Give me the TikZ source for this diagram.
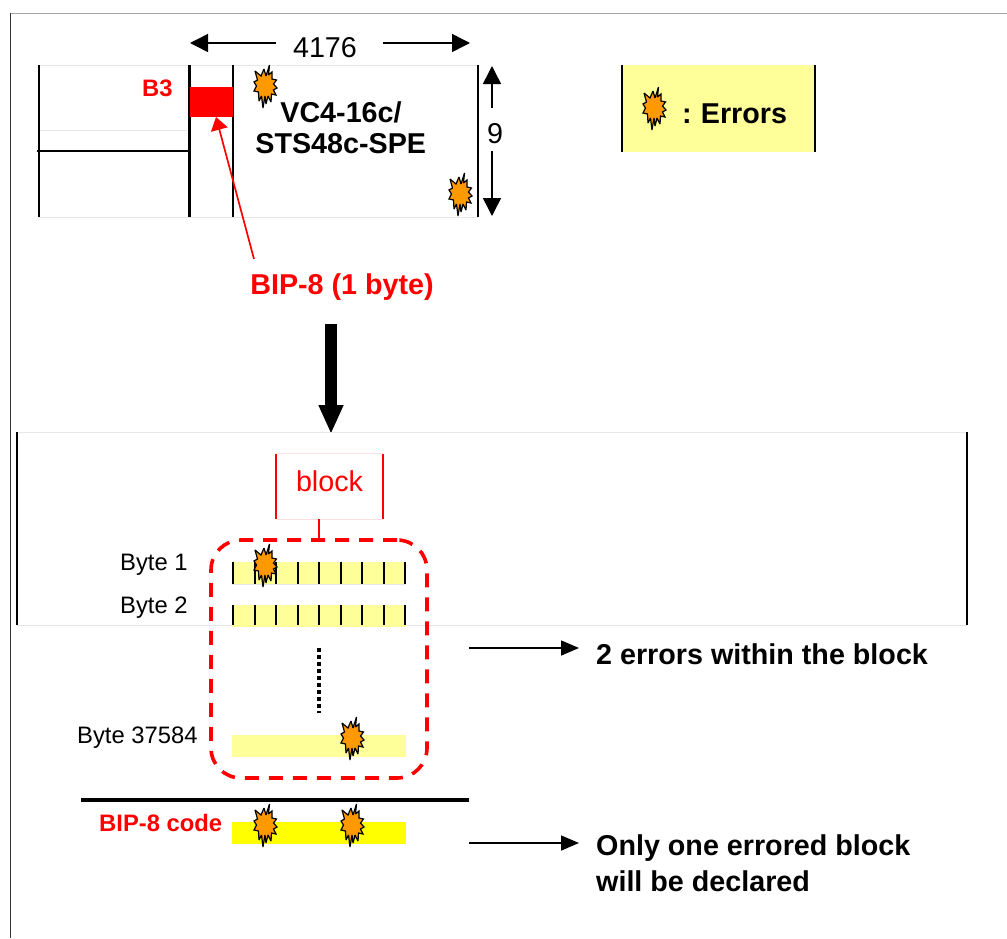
\documentclass[tikz,border=0pt]{standalone}
\usepackage{fontspec}
\setmainfont{Liberation Sans}
\usepackage{xcolor}
\usepackage{tikz}
\usetikzlibrary{positioning}
\usetikzlibrary{arrows.meta}
\definecolor{paleyellow}{HTML}{FFFF99}
\definecolor{codeyellow}{HTML}{FFFF00}
\definecolor{burstorange}{HTML}{FF9900}
\definecolor{edgegray}{HTML}{E6E6E6}
\newcommand{\bigfont}{\fontsize{28.7}{34}\selectfont}
\newcommand{\smallfont}{\fontsize{23.8}{28}\selectfont}
\tikzset {
  x=1pt, y=-1pt,
  % plain and bold labels
  label28/.style={inner sep=0pt, font=\bigfont},
  bold28/.style={inner sep=0pt, font=\bigfont\bfseries},
  label23/.style={inner sep=0pt, font=\smallfont},
  bold23/.style={inner sep=0pt, font=\smallfont\bfseries},
  % the yellow bars
  bytebar/.style={inner sep=0pt, minimum width=174pt, minimum height=22pt, fill=paleyellow},
  % frames whose sides only are dark
  edge/.style={edgegray, line width=1pt},
  side/.style={black, line width=2pt},
  heavyside/.style={black, line width=3.2pt},
  % size arrows
  onearrow/.style={line width=1.5pt, -{Triangle[length=18pt,width=18pt]}},
  notearrow/.style={line width=1.5pt, -{Triangle[length=18pt,width=15pt]}},
  burst/.pic={
    \draw[fill=burstorange, line width=1.2pt, line join=miter, miter limit=2.5]
      (4.5,-21) -- (3.5,-11) -- (7,-14) -- (7,-7) -- (11.5,-6) -- (8.5,-2) -- (12,2) -- (8.5,4)
      -- (11,9) -- (6.5,8) -- (6,16) -- (3,10) -- (1,18) -- (0,10) -- (-2,22) -- (-3.5,10)
      -- (-6,15) -- (-6.5,6) -- (-11,5) -- (-8.5,0) -- (-11,-4) -- (-7.5,-6) -- (-10,-15)
      -- (-4,-10) -- (-1,-17) -- (1,-10) -- cycle;
  },
}
\begin{document}
\begin{tikzpicture}
  \useasboundingbox (0,0) rectangle (1007,938);
  \fill[white] (0,0) rectangle (1007,938);

  % outer frame
  \draw[gray!70, line width=1pt] (10,13) -- (1007,13);
  \draw[black!80, line width=1pt] (10,13) -- (10,938);

  % upper frame
  \draw[edge] (39,65) -- (478,65);
  \draw[edge] (39,217) -- (478,217);
  \draw[edge] (39,130) -- (187,130);
  \draw[side] (39,65) -- (39,217);
  \draw[heavyside] (189.5,65) -- (189.5,217);
  \draw[side] (233,65) -- (233,217);
  \draw[side] (478,65) -- (478,217);
  \draw[side] (37,151) -- (188,151);
  \node[fill=red, inner sep=0pt, minimum width=43pt, minimum height=30pt] (bthree) at (211.5,102) {};
  \node[bold23, text=red, anchor=west] (bthreetext) at (142,88) {B3};

  \node[label28] (rowcount) at (325,48) {4176};
  \coordinate (rowleft) at (190,43);
  \coordinate (rowright) at (470,43);
  \draw[onearrow] (276,43) -- (rowleft);
  \draw[onearrow] (383,43) -- (rowright);

  \node[label28] (colcount) at (495,134) {9};
  \coordinate (coltop) at (492,66);
  \coordinate (colbottom) at (492,216);
  \draw[onearrow] (492,108) -- (coltop);
  \draw[onearrow] (492,151) -- (colbottom);

  \node[bold28] (vcname) at (341,112) {VC4-16c/};
  \node[bold28, below=10pt of vcname.south west, anchor=north west, xshift=-25pt] (stsname) {STS48c-SPE};

  \node[bold28, text=red] (bipnote) at (342,287) {BIP-8 (1 byte)};
  \coordinate (bipfoot) at (254,259);
  \coordinate (biptip) at (216,117);
  \draw[red, line width=1.7pt, -{Triangle[length=13pt,width=17pt]}] (bipfoot) -- (biptip);

  % legend
  \node[inner sep=0pt, minimum width=193pt, minimum height=87pt, fill=paleyellow] (legend) at (718.5,108.5) {};
  \draw[side] (legend.north west) -- (legend.south west);
  \draw[side] (legend.north east) -- (legend.south east);
  \node[bold28, anchor=west] (legendtext) at (682,114) {:\hspace{-1.5pt} Errors};

  % big arrow down
  \coordinate (bigstart) at (331,324);
  \coordinate (bigtip) at (331,434);
  \draw[line width=12pt, -{Triangle[length=29pt,width=23pt]}] (bigstart) -- (bigtip);

  % lower frame
  \draw[edge] (17,432) -- (967,432);
  \draw[edge] (17,625) -- (967,625);
  \draw[side] (17,432) -- (17,625);
  \draw[side] (967,432) -- (967,625);

  % block label
  \node[inner sep=0pt, minimum width=107pt, minimum height=65pt] (blockbox) at (329.5,486.5) {};
  \draw[red!12, line width=1pt] (blockbox.north west) -- (blockbox.north east);
  \draw[red!12, line width=1pt] (blockbox.south west) -- (blockbox.south east);
  \draw[red, line width=1.5pt] (blockbox.north west) -- (blockbox.south west);
  \draw[red, line width=1.5pt] (blockbox.north east) -- (blockbox.south east);
  \node[label28, text=red] (blocktext) at (329.5,481) {block};

  \node[draw=red, line width=3.6pt, dash pattern=on 14pt off 10pt, rounded corners=30pt,
        inner sep=0pt, minimum width=216pt, minimum height=238pt] (blockarea) at (319,659) {};
  \coordinate (blockfoot) at (319,519);
  \draw[red, line width=1.5pt] (blockfoot) -- (319,540);

  % byte rows
  \node[bytebar] (byteone) at (319,573) {};
  \node[bytebar] (bytetwo) at (319,616) {};
  \node[bytebar] (bytelast) at (319,746) {};
  \node[bytebar, fill=codeyellow] (bipcode) at (319,833) {};
  \foreach \x in {233,255,276,298,319,341,362,384,405} {
    \draw[black, line width=2.5pt] (\x,562) -- (\x,584);
    \draw[black, line width=2.5pt] (\x,605) -- (\x,625);
  }
  \draw[edge] (232,584.5) -- (406,584.5);

  \node[label23, anchor=west] (byteonetext) at (120,565) {Byte 1};
  \node[label23, anchor=west] (bytetwotext) at (120,608) {Byte 2};
  \node[label23, anchor=west] (bytelasttext) at (77,738) {Byte 37584};
  \node[bold23, text=red, anchor=west] (biptext) at (99,823) {BIP-8 code};

  \draw[line width=4.5pt, dash pattern=on 4pt off 3pt] (319,648) -- (319,713);
  \draw[line width=3.5pt] (81,800) -- (469,800);

  % errors
  \pic at (265,86) {burst};
  \pic at (460,194) {burst};
  \pic at (654,108) {burst};
  \pic at (265,565) {burst};
  \pic at (352,738) {burst};
  \pic at (265,825) {burst};
  \pic at (352,825) {burst};

  % notes on the right
  \coordinate (noteonea) at (469,648);
  \coordinate (noteoneb) at (579,648);
  \coordinate (notetwoa) at (469,843);
  \coordinate (notetwob) at (579,843);
  \draw[notearrow] (noteonea) -- (noteoneb);
  \draw[notearrow] (notetwoa) -- (notetwob);
  \node[bold28, anchor=west] (noteone) at (596,654) {2 errors within the block};
  \node[bold28, anchor=west] (notetwo) at (596,848) {Only one errored block};
  \node[bold28, below=9pt of notetwo.south west, anchor=north west] (notethree) {will be declared};
\end{tikzpicture}
\end{document}
